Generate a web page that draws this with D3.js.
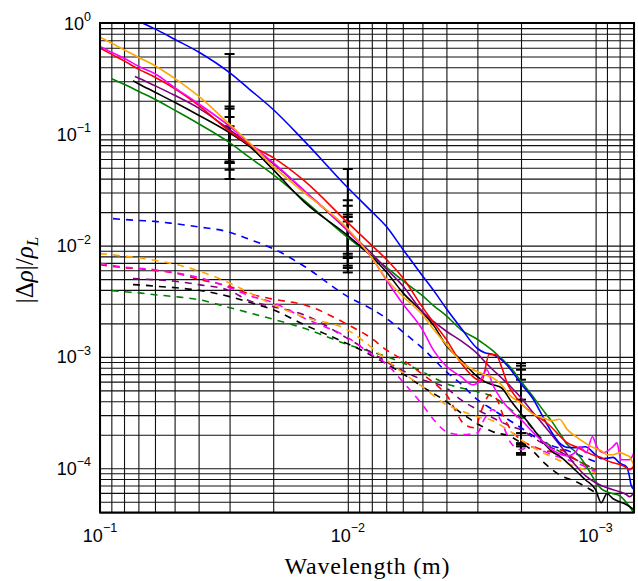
<!DOCTYPE html>
<html>
<head>
<meta charset="utf-8">
<script src="https://cdn.jsdelivr.net/npm/d3@7"></script>
<style>
  body { margin: 0; background: #fff; }
  svg { display: block; }
</style>
</head>
<body>
<svg id="chart" width="638" height="581"></svg>
<script>
// ---- Data: [wavelength (m), |Δρ|/ρL] ----
const blueSolid = [[0.0675,1.0],[0.06,0.885],[0.05,0.715],[0.04,0.549],[0.03,0.358],[0.025,0.255],[0.02,0.167],[0.015,0.0873],[0.01,0.0331],[0.008,0.0202],[0.007,0.0149],[0.006,0.00929],[0.005,0.00537],[0.0045,0.00394],[0.004,0.00271],[0.0035,0.00183],[0.003,0.00119],[0.0028,0.00109],[0.0026,0.00105],[0.0024,0.000944],[0.0022,0.000767],[0.002,0.000574],[0.0018,0.00043],[0.0016,0.000267],[0.0015,0.000208],[0.0014,0.000169],[0.0013,0.000154],[0.0012,0.000153],[0.0011,0.000156],[0.001,0.000132],[0.00095,0.000122],[0.0009,0.000123],[0.00085,0.000125],[0.0008,0.000111],[0.00075,0.000103],[0.00073,0.0000839],[0.00072,0.0000711],[0.0007,0.0000641]];
const orangeSolid = [[0.1,0.748],[0.09,0.661],[0.08,0.575],[0.07,0.493],[0.06,0.413],[0.05,0.318],[0.04,0.22],[0.03,0.1227],[0.025,0.0841],[0.02,0.0515],[0.015,0.0299],[0.01,0.01419],[0.008,0.00778],[0.007,0.00505],[0.006,0.00351],[0.005,0.00239],[0.0045,0.00176],[0.004,0.00129],[0.0035,0.000906],[0.003,0.000736],[0.0028,0.000692],[0.0026,0.00065],[0.0024,0.000562],[0.0022,0.000444],[0.002,0.00038],[0.0018,0.000309],[0.0016,0.000279],[0.0015,0.000267],[0.0014,0.000275],[0.0013,0.000222],[0.0012,0.000192],[0.0011,0.000168],[0.001,0.00015],[0.00095,0.000144],[0.0009,0.000132],[0.00085,0.000132],[0.0008,0.000138],[0.00075,0.000131],[0.00073,0.000127],[0.0007,0.000105]];
const redSolid = [[0.1,0.596],[0.09,0.525],[0.08,0.458],[0.07,0.385],[0.06,0.326],[0.05,0.258],[0.04,0.182],[0.03,0.1064],[0.025,0.0807],[0.02,0.0617],[0.015,0.0383],[0.01,0.01606],[0.008,0.01005],[0.007,0.00755],[0.006,0.00515],[0.005,0.0028],[0.0045,0.00203],[0.004,0.00143],[0.0035,0.000887],[0.003,0.000624],[0.00288,0.000611],[0.00269,0.00105],[0.00253,0.00105],[0.00239,0.0008],[0.00226,0.000564],[0.00216,0.000478],[0.002,0.000384],[0.0018,0.000312],[0.0016,0.000262],[0.0015,0.000231],[0.0014,0.000196],[0.0013,0.000169],[0.0012,0.000156],[0.0011,0.000141],[0.001,0.000129],[0.00095,0.000125],[0.0009,0.000117],[0.00085,0.000112],[0.0008,0.000108],[0.00075,0.000101],[0.00073,0.0000968],[0.0007,0.000105]];
const magentaSolid = [[0.1,0.616],[0.09,0.547],[0.08,0.483],[0.07,0.409],[0.06,0.35],[0.05,0.263],[0.04,0.188],[0.03,0.118],[0.025,0.0832],[0.02,0.0556],[0.015,0.0312],[0.01,0.01361],[0.008,0.00778],[0.007,0.00494],[0.006,0.003],[0.005,0.00176],[0.0045,0.00114],[0.004,0.000822],[0.0035,0.000668],[0.00313,0.000562],[0.00293,0.000611],[0.00275,0.000767],[0.0026,0.000562],[0.0024,0.000413],[0.0022,0.000329],[0.002,0.000273],[0.0018,0.000213],[0.0016,0.000166],[0.0015,0.000147],[0.0014,0.000135],[0.0013,0.000129],[0.0012,0.000141],[0.00116,0.000156],[0.00109,0.000138],[0.00103,0.000192],[0.00099,0.000156],[0.00093,0.000138],[0.00085,0.000157],[0.00082,0.000169],[0.00079,0.000119],[0.00073,0.000119],[0.0007,0.000138]];
const purpleSolid = [[0.0723,0.331],[0.07,0.321],[0.06,0.273],[0.05,0.224],[0.04,0.172],[0.03,0.11],[0.025,0.0807],[0.02,0.0544],[0.015,0.0311],[0.01,0.01361],[0.008,0.00845],[0.007,0.0062],[0.006,0.00436],[0.005,0.00255],[0.0045,0.00207],[0.004,0.0017],[0.0035,0.0014],[0.003,0.00107],[0.0028,0.000906],[0.0026,0.000767],[0.0024,0.00065],[0.0022,0.00054],[0.002,0.00043],[0.0018,0.000322],[0.0016,0.000236],[0.0015,0.000198],[0.0014,0.000163],[0.0013,0.000132],[0.0012,0.000105],[0.0011,0.0000857],[0.001,0.0000741],[0.0009,0.0000668],[0.0008,0.0000615],[0.00075,0.0000578],[0.00073,0.0000555],[0.0007,0.0000603]];
const blackSolid = [[0.0736,0.303],[0.07,0.285],[0.06,0.239],[0.05,0.194],[0.04,0.1485],[0.03,0.1032],[0.025,0.0782],[0.02,0.0481],[0.015,0.0247],[0.01,0.01227],[0.008,0.00794],[0.007,0.00582],[0.006,0.00378],[0.005,0.00252],[0.0045,0.00191],[0.004,0.00126],[0.0035,0.000944],[0.003,0.000664],[0.0028,0.000598],[0.0026,0.000562],[0.0024,0.000528],[0.0022,0.000404],[0.002,0.000309],[0.0018,0.000231],[0.0016,0.000163],[0.0015,0.000141],[0.0014,0.000129],[0.0013,0.000112],[0.0012,0.0000948],[0.0011,0.0000787],[0.001,0.0000641],[0.00095,0.000049],[0.0009,0.000059],[0.00085,0.0000532],[0.0008,0.00005],[0.00075,0.000047],[0.0007,0.0000424]];
const greenSolid = [[0.0897,0.316],[0.08,0.282],[0.07,0.244],[0.06,0.2066],[0.05,0.165],[0.04,0.1245],[0.03,0.0841],[0.025,0.0623],[0.02,0.0434],[0.015,0.0255],[0.01,0.01178],[0.008,0.0081],[0.007,0.0064],[0.006,0.00484],[0.005,0.00355],[0.0045,0.00288],[0.004,0.00234],[0.0035,0.00176],[0.003,0.00144],[0.0028,0.00129],[0.0026,0.00114],[0.0024,0.000964],[0.0022,0.0008],[0.002,0.000604],[0.0018,0.000448],[0.0016,0.000315],[0.0015,0.000262],[0.0014,0.000208],[0.0013,0.000163],[0.0012,0.000139],[0.0011,0.000108],[0.001,0.0000757],[0.00095,0.0000655],[0.0009,0.0000615],[0.00085,0.000059],[0.0008,0.0000566],[0.00075,0.000049],[0.0007,0.0000395]];

const blueDashed = [[0.0886,0.01746],[0.08,0.01715],[0.07,0.01682],[0.06,0.0165],[0.05,0.01574],[0.04,0.01472],[0.03,0.01319],[0.025,0.0114],[0.02,0.00938],[0.015,0.00653],[0.01,0.00348],[0.008,0.00269],[0.007,0.00223],[0.006,0.00168],[0.005,0.0012],[0.004,0.000736],[0.0035,0.000574],[0.003,0.000413],[0.0026,0.000336],[0.002,0.000231],[0.0016,0.000169],[0.0013,0.000144],[0.001,0.000114]];
const orangeDashed = [[0.1,0.00845],[0.09,0.00828],[0.08,0.00803],[0.07,0.00778],[0.06,0.00738],[0.05,0.00681],[0.04,0.00593],[0.03,0.00461],[0.025,0.00378],[0.02,0.00294],[0.015,0.00228],[0.01,0.00174],[0.008,0.00121],[0.007,0.000944],[0.006,0.000721],[0.005,0.00054],[0.004,0.000372],[0.0035,0.000329],[0.003,0.00029],[0.0026,0.000267],[0.0024,0.000241],[0.0022,0.000213],[0.002,0.00018],[0.0016,0.000135],[0.0013,0.00011],[0.001,0.000091]];
const redDashed = [[0.1,0.00673],[0.09,0.00653],[0.08,0.00633],[0.07,0.0062],[0.06,0.00597],[0.05,0.00568],[0.04,0.00499],[0.03,0.00428],[0.025,0.0037],[0.02,0.0033],[0.015,0.00294],[0.01,0.00195],[0.008,0.00146],[0.007,0.00116],[0.006,0.000944],[0.005,0.0007],[0.0045,0.000586],[0.004,0.000457],[0.00337,0.000246],[0.00307,0.000231],[0.00288,0.000336],[0.00267,0.000457],[0.0025,0.000413],[0.00237,0.000303],[0.0022,0.000222],[0.002,0.00018],[0.00177,0.000156],[0.0015,0.000141],[0.0014,0.000147],[0.0012,0.000119],[0.001,0.0000968]];
const magentaDashed = [[0.1,0.00695],[0.09,0.00667],[0.08,0.0064],[0.07,0.00627],[0.06,0.00607],[0.05,0.00571],[0.04,0.00518],[0.03,0.00419],[0.025,0.00355],[0.02,0.00307],[0.015,0.00223],[0.01,0.00149],[0.008,0.00105],[0.007,0.000869],[0.006,0.000598],[0.005,0.000372],[0.0045,0.000273],[0.004,0.000213],[0.0035,0.0002],[0.003,0.000208],[0.00282,0.000273],[0.0026,0.000336],[0.0024,0.000262],[0.0022,0.000169],[0.002,0.000147],[0.00184,0.000156],[0.0015,0.000132],[0.0012,0.000112],[0.001,0.0000929]];
const purpleDashed = [[0.0736,0.00505],[0.07,0.00502],[0.06,0.00494],[0.05,0.00479],[0.04,0.00446],[0.03,0.00394],[0.025,0.0032],[0.02,0.00283],[0.015,0.00239],[0.01,0.00146],[0.008,0.00109],[0.007,0.000906],[0.006,0.000752],[0.005,0.000624],[0.004,0.000524],[0.0035,0.000413],[0.003,0.000336],[0.0026,0.000284],[0.0022,0.000238],[0.002,0.000222],[0.00173,0.00018],[0.0014,0.000141],[0.0012,0.000119],[0.001,0.0000968]];
const blackDashed = [[0.0736,0.00446],[0.07,0.00444],[0.06,0.00432],[0.05,0.00419],[0.04,0.00397],[0.03,0.00348],[0.025,0.0031],[0.02,0.00265],[0.015,0.00195],[0.01,0.00131],[0.008,0.00103],[0.007,0.000869],[0.006,0.000706],[0.005,0.00054],[0.004,0.000396],[0.0035,0.000315],[0.003,0.000251],[0.0026,0.000213],[0.0022,0.000192],[0.002,0.000169],[0.0018,0.000144],[0.0016,0.00011],[0.0014,0.0000873],[0.0012,0.0000757],[0.001,0.0000603]];
const greenDashed = [[0.0897,0.00394],[0.08,0.00385],[0.07,0.00376],[0.06,0.00362],[0.05,0.00348],[0.04,0.00327],[0.03,0.00277],[0.025,0.00249],[0.02,0.00218],[0.015,0.00181],[0.01,0.00129],[0.008,0.00111],[0.007,0.00101],[0.006,0.000887],[0.005,0.000736],[0.004,0.000574],[0.0035,0.000528],[0.003,0.000487],[0.0026,0.000439],[0.0022,0.000336],[0.002,0.00029],[0.0016,0.000173],[0.0012,0.000119],[0.001,0.0000968]];

// Error bars: [wavelength, lower, upper]
const errorBars = [
  [0.03,0.0397,0.526],[0.03,0.0481,0.178],[0.03,0.0552,0.170],[0.03,0.0571,0.143],[0.03,0.0552,0.118],
  [0.01,0.00574,0.0488],[0.01,0.0063,0.0255],[0.01,0.0066,0.0228],[0.01,0.00774,0.019],[0.01,0.008,0.0181],[0.01,0.00846,0.0165],
  [0.002,0.000132,0.000881],[0.002,0.000137,0.000834],[0.002,0.000157,0.000767],[0.002,0.000163,0.000624],[0.002,0.000168,0.000413],[0.002,0.000207,0.000292]
];

// Labelled decades
const xLabelValues = [1e-1, 1e-2, 1e-3];
const yLabelValues = [1, 1e-1, 1e-2, 1e-3, 1e-4];

// Series styling, drawn in this order (dashed first, solids on top)
const dashedSeries = [
  {data: greenDashed, color: "#008000"},
  {data: blackDashed, color: "#000000"},
  {data: purpleDashed, color: "#800080"},
  {data: blueDashed, color: "#0000ff"},
  {data: redDashed, color: "#ff0000"},
  {data: magentaDashed, color: "#ff00ff"},
  {data: orangeDashed, color: "#ffa500"}
];
const solidSeries = [
  {data: greenSolid, color: "#008000"},
  {data: blackSolid, color: "#000000"},
  {data: purpleSolid, color: "#800080"},
  {data: blueSolid, color: "#0000ff"},
  {data: redSolid, color: "#ff0000"},
  {data: magentaSolid, color: "#ff00ff"},
  {data: orangeSolid, color: "#ffa500"}
];

// ---- Layout ----
const plotLeft = 100, plotRight = 634, plotTop = 23, plotBottom = 512.5;
const svg = d3.select("#chart");

const x = d3.scaleLog().domain([1e-1, 7e-4]).range([plotLeft, plotRight]);
const y = d3.scaleLog().domain([4e-5, 1]).range([plotBottom, plotTop]);

// Grid (every 1..9 × 10^k)
const gx = svg.append("g")
  .attr("transform", `translate(0,${plotBottom})`)
  .call(d3.axisBottom(x).tickValues(x.ticks()).tickSize(-(plotBottom - plotTop)).tickFormat(""));
gx.select(".domain").remove();
gx.selectAll(".tick line").attr("stroke", "#111").attr("stroke-width", 1.1);

const gy = svg.append("g")
  .attr("transform", `translate(${plotLeft},0)`)
  .call(d3.axisLeft(y).tickValues(y.ticks()).tickSize(-(plotRight - plotLeft)).tickFormat(""));
gy.select(".domain").remove();
gy.selectAll(".tick line").attr("stroke", "#111").attr("stroke-width", 1.1);

// Clip to the plotting area
svg.append("defs").append("clipPath").attr("id", "plotClip")
  .append("rect").attr("x", plotLeft).attr("y", plotTop)
  .attr("width", plotRight - plotLeft).attr("height", plotBottom - plotTop);

const plot = svg.append("g").attr("clip-path", "url(#plotClip)");

// Error bars
const capHalf = 5;
const eb = plot.append("g").attr("stroke", "#000").attr("stroke-width", 2);
errorBars.forEach(([w, lo, hi]) => {
  const cx = x(w);
  eb.append("line").attr("x1", cx).attr("x2", cx).attr("y1", y(lo)).attr("y2", y(hi));
  eb.append("line").attr("x1", cx - capHalf).attr("x2", cx + capHalf).attr("y1", y(lo)).attr("y2", y(lo));
  eb.append("line").attr("x1", cx - capHalf).attr("x2", cx + capHalf).attr("y1", y(hi)).attr("y2", y(hi));
});

const line = d3.line()
  .x(d => x(d[0]))
  .y(d => y(d[1]))
  .curve(d3.curveMonotoneX);

plot.selectAll("path.dashed")
  .data(dashedSeries).enter().append("path")
  .attr("class", "dashed")
  .attr("d", s => line(s.data))
  .attr("fill", "none")
  .attr("stroke", s => s.color)
  .attr("stroke-width", 1.6)
  .attr("stroke-dasharray", "7,6");

plot.selectAll("path.solid")
  .data(solidSeries).enter().append("path")
  .attr("class", "solid")
  .attr("d", s => line(s.data))
  .attr("fill", "none")
  .attr("stroke", s => s.color)
  .attr("stroke-width", 1.6);

// Axes frame
svg.append("rect")
  .attr("x", plotLeft).attr("y", plotTop)
  .attr("width", plotRight - plotLeft).attr("height", plotBottom - plotTop)
  .attr("fill", "none").attr("stroke", "#000").attr("stroke-width", 2);

// Tick labels with superscript exponents
const tickFont = "'Liberation Sans', Arial, Helvetica, sans-serif";
const expText = v => {
  const e = Math.round(Math.log10(v));
  return e < 0 ? "\u2212" + (-e) : String(e);
};

xLabelValues.forEach(v => {
  const t = svg.append("text")
    .attr("x", x(v)).attr("y", 541.5)
    .attr("text-anchor", "middle")
    .attr("font-family", tickFont).attr("font-size", 18).attr("fill", "#000");
  t.append("tspan").text("10");
  t.append("tspan").attr("dy", -9.5).attr("font-size", 12.5).text(expText(v));
});

yLabelValues.forEach(v => {
  const t = svg.append("text")
    .attr("x", 91).attr("y", y(v) + 6.5)
    .attr("text-anchor", "end")
    .attr("font-family", tickFont).attr("font-size", 18).attr("fill", "#000");
  t.append("tspan").text("10");
  t.append("tspan").attr("dy", -8.5).attr("font-size", 12.5).text(expText(v));
});

// Axis titles
const serif = "'Liberation Serif', 'DejaVu Serif', 'Times New Roman', serif";
svg.append("text")
  .attr("x", (plotLeft + plotRight) / 2).attr("y", 573.5)
  .attr("text-anchor", "middle")
  .attr("font-family", serif).attr("font-size", 24).attr("fill", "#000")
  .attr("textLength", 165).attr("lengthAdjust", "spacing")
  .text("Wavelength (m)");

const yt = svg.append("text")
  .attr("transform", "translate(33,270) rotate(-90)")
  .attr("text-anchor", "middle")
  .attr("font-family", serif).attr("font-size", 25).attr("fill", "#000");
yt.append("tspan").text("|\u0394");
yt.append("tspan").attr("font-style", "italic").text("\u03C1");
yt.append("tspan").text("|/");
yt.append("tspan").attr("font-style", "italic").text("\u03C1");
yt.append("tspan").attr("font-style", "italic").attr("font-size", 17).attr("dy", 5).text("L");
</script>
</body>
</html>
